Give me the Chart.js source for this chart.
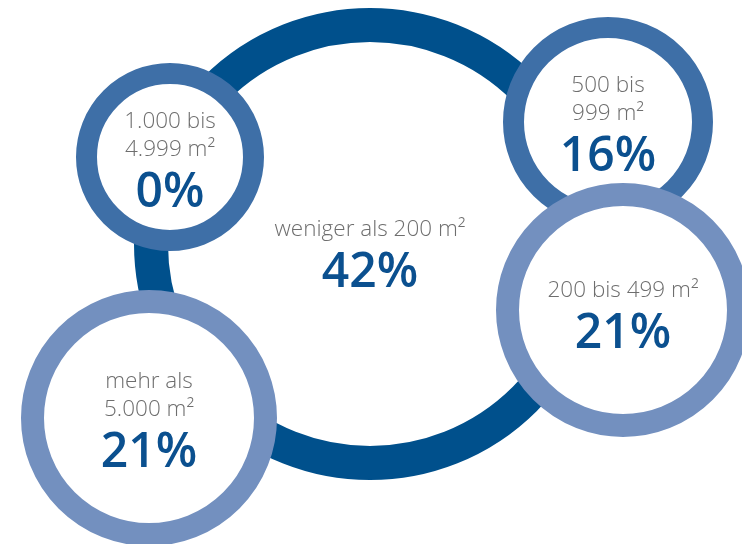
<!DOCTYPE html>
<html>
<head>
<meta charset="utf-8">
<script src="https://cdn.jsdelivr.net/npm/chart.js@4"></script>
<style>
  html, body { margin: 0; padding: 0; background: #fff; }
  .wrap { width: 742px; height: 544px; position: relative; }
</style>
</head>
<body>
<div class="wrap"><canvas id="myChart"></canvas></div>
<script>
// Categories (line-broken as in the picture) and shares in percent
const categories = [
  ["weniger als 200 m²"],
  ["1.000 bis", "4.999 m²"],
  ["500 bis", "999 m²"],
  ["200 bis 499 m²"],
  ["mehr als", "5.000 m²"]
];
const shares = [42, 0, 16, 21, 21];

// Circle layout (canvas pixels): centre, outer radius, ring width, text shift
const centersX = [370, 170, 608, 623, 149];
const centersY = [244, 157, 122, 310, 418];
const outerRadius = [236, 94, 105, 127, 128];
const ringWidth = [34, 21, 21, 23, 23];
const textShift = [9, 2, 1, 4, 1];

// Colours
const ringColors = ["#00508c", "#3e6fa7", "#3e6fa7", "#7390bf", "#7390bf"];
const grayText = "#6e6e6e";
const blueText = "#0b508f";

const points = shares.map((v, i) => ({
  x: centersX[i],
  y: centersY[i],
  r: outerRadius[i] - ringWidth[i] / 2
}));

const labelPlugin = {
  id: "ringLabels",
  afterDatasetsDraw(chart) {
    const ctx = chart.ctx;
    const meta = chart.getDatasetMeta(0);
    meta.data.forEach((pt, i) => {
      const lines = categories[i];
      const lineH = 28;
      const gap = 51;
      const capH = 16;
      const blockH = capH + (lines.length - 1) * lineH + gap;
      let y = pt.y + textShift[i] - blockH / 2 + capH;
      ctx.save();
      ctx.textAlign = "center";
      ctx.textBaseline = "alphabetic";
      ctx.fillStyle = grayText;
      ctx.font = "300 22.5px 'Open Sans'";
      lines.forEach((line, k) => {
        ctx.fillText(line, pt.x, y + k * lineH);
      });
      ctx.fillStyle = blueText;
      ctx.font = "600 48px 'Open Sans'";
      ctx.fillText(shares[i] + "%", pt.x, y + (lines.length - 1) * lineH + gap);
      ctx.restore();
    });
  }
};

const ctx = document.getElementById("myChart").getContext("2d");
const myChart = new Chart(ctx, {
  type: "bubble",
  data: {
    datasets: [{
      data: points,
      backgroundColor: "#ffffff",
      borderColor: ringColors,
      borderWidth: ringWidth,
      hoverBorderWidth: ringWidth,
      clip: false
    }]
  },
  options: {
    responsive: true,
    maintainAspectRatio: false,
    animation: false,
    events: [],
    layout: { padding: 0, autoPadding: false },
    plugins: {
      legend: { display: false },
      tooltip: { enabled: false }
    },
    scales: {
      x: { type: "linear", min: 0, max: 742, display: false },
      y: { type: "linear", min: 0, max: 544, reverse: true, display: false }
    }
  },
  plugins: [labelPlugin]
});
</script>
</body>
</html>
